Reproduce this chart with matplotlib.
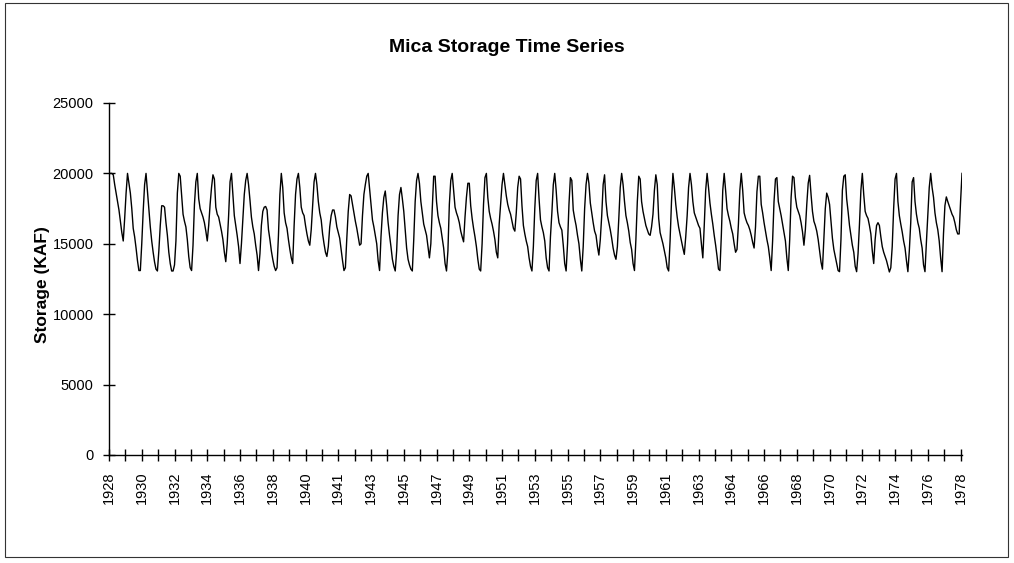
import numpy as np
import matplotlib
matplotlib.use("Agg")
import matplotlib.pyplot as plt
from matplotlib.patches import Rectangle

# Monthly storage (KAF), water years Jul..Jun
storage_1928_1937 = [
    [20000, 20000, 20000, 19900, 19200, 18600, 18000, 17400, 16600, 15800, 15200, 16800],
    [18600, 20000, 19300, 18600, 17500, 16100, 15500, 14700, 13800, 13100, 13100, 15000],
    [17300, 19200, 20000, 18700, 17500, 16200, 15200, 14400, 13700, 13200, 13070, 14500],
    [16300, 17700, 17700, 17600, 16500, 15600, 14400, 13600, 13070, 13070, 13500, 15200],
    [18600, 20000, 19800, 18500, 17100, 16600, 16200, 15300, 14100, 13300, 13100, 14900],
    [17800, 19400, 20000, 18200, 17500, 17200, 16900, 16500, 15900, 15200, 16300, 17800],
    [19000, 19900, 19600, 17600, 17100, 16900, 16400, 15900, 15300, 14400, 13730, 15000],
    [17000, 19400, 20000, 18500, 17000, 16300, 15600, 14800, 13600, 15000, 16700, 18500],
    [19500, 20000, 19200, 18100, 16900, 16200, 15700, 14900, 14200, 13100, 14300, 16300],
    [17300, 17600, 17650, 17400, 16000, 15300, 14500, 13900, 13400, 13100, 13300, 15600],
]
storage_1938_1947 = [
    [18500, 20000, 19000, 17200, 16500, 16100, 15300, 14600, 14000, 13600, 16300, 18500],
    [19600, 20000, 19000, 17600, 17200, 17000, 16300, 15700, 15200, 14900, 16000, 17700],
    [19400, 20000, 19200, 18000, 17200, 16700, 15700, 15000, 14400, 14100, 14800, 16200],
    [17000, 17400, 17400, 16900, 16200, 15800, 15400, 14600, 13800, 13100, 13300, 15400],
    [17300, 18500, 18400, 17800, 17200, 16600, 16100, 15500, 14900, 15000, 17000, 18500],
    [19200, 19800, 20000, 18900, 17800, 16700, 16200, 15600, 15000, 13800, 13100, 15500],
    [17200, 18300, 18750, 17700, 16500, 15600, 14800, 13900, 13400, 13070, 14500, 17000],
    [18500, 19000, 18200, 17300, 16000, 14700, 13900, 13500, 13200, 13070, 15300, 18000],
    [19500, 20000, 19300, 18000, 17200, 16400, 16000, 15600, 14800, 14000, 15000, 17500],
    [19800, 19800, 18000, 17000, 16500, 16100, 15400, 14700, 13600, 13070, 14500, 17800],
]
storage_1948_1957 = [
    [19500, 20000, 18800, 17600, 17200, 16900, 16500, 15900, 15500, 15140, 16900, 18300],
    [19300, 19300, 17700, 16800, 16100, 15500, 14800, 13900, 13200, 13070, 15000, 17800],
    [19700, 20000, 18300, 17300, 16800, 16400, 15900, 15300, 14400, 14000, 16400, 17800],
    [19200, 20000, 19200, 18400, 17800, 17400, 17100, 16600, 16100, 15900, 17200, 19000],
    [19800, 19600, 17700, 16300, 15700, 15200, 14800, 14000, 13400, 13070, 14800, 17500],
    [19500, 20000, 18200, 16700, 16200, 15800, 15200, 14000, 13300, 13070, 15500, 17200],
    [19200, 20000, 18800, 17300, 16500, 16200, 15970, 14900, 13600, 13070, 15000, 17800],
    [19700, 19500, 17400, 16800, 16300, 15600, 15000, 13900, 13070, 14800, 17500, 19200],
    [20000, 19300, 17900, 17200, 16500, 15900, 15600, 14800, 14200, 15300, 17000, 19200],
    [19900, 18000, 17000, 16500, 16000, 15400, 14700, 14200, 13900, 14800, 16800, 19000],
]
storage_1958_1967 = [
    [20000, 19200, 18000, 17000, 16500, 15900, 15100, 14600, 13600, 13100, 15300, 18000],
    [19800, 19600, 18000, 17300, 16800, 16300, 16000, 15700, 15600, 16200, 17100, 18800],
    [19900, 19200, 16800, 15800, 15400, 15000, 14500, 14000, 13300, 13070, 15200, 18000],
    [20000, 19000, 17800, 16900, 16200, 15700, 15200, 14700, 14250, 15500, 17000, 19000],
    [20000, 19200, 18000, 17200, 16900, 16600, 16300, 16100, 15000, 14000, 16300, 18800],
    [20000, 19000, 17900, 17100, 16400, 15600, 14900, 14100, 13200, 13100, 15600, 18800],
    [20000, 18800, 17500, 17000, 16600, 16100, 15700, 15000, 14400, 14600, 16400, 18800],
    [20000, 18800, 17200, 16800, 16500, 16300, 16000, 15600, 15100, 14700, 16200, 18700],
    [19800, 19800, 17800, 17200, 16500, 15900, 15300, 14800, 14000, 13100, 15200, 18000],
    [19600, 19700, 18000, 17500, 17000, 16400, 15800, 15200, 14000, 13100, 15300, 18300],
]
storage_1968_1977 = [
    [19800, 19700, 18300, 17600, 17300, 17000, 16500, 15850, 14900, 16000, 17800, 19300],
    [19860, 18500, 17300, 16600, 16300, 15900, 15300, 14500, 13700, 13200, 15300, 17500],
    [18600, 18300, 17800, 16600, 15400, 14600, 14100, 13600, 13100, 13020, 15300, 18800],
    [19800, 19900, 18200, 17300, 16300, 15600, 14900, 14400, 13400, 13020, 14300, 16400],
    [18800, 20000, 18500, 17300, 17000, 16800, 16300, 15700, 14500, 13600, 15300, 16300],
    [16500, 16300, 15500, 14800, 14400, 14100, 13800, 13400, 13000, 13300, 14800, 17500],
    [19600, 20000, 18000, 17000, 16400, 15850, 15200, 14700, 13800, 13020, 14500, 16500],
    [19400, 19700, 18000, 17100, 16500, 16100, 15300, 14700, 13500, 13020, 15100, 17000],
    [19000, 20000, 19000, 18300, 17200, 16500, 16000, 15200, 14000, 13020, 15700, 17700],
    [18330, 18000, 17700, 17400, 17100, 16900, 16500, 16000, 15700, 15700, 18000, 20000],
]

tick_labels = ["1928", "1930", "1932", "1934", "1936", "1938", "1940", "1941",
               "1943", "1945", "1947", "1949", "1951", "1953", "1955", "1957",
               "1959", "1961", "1963", "1964", "1966", "1968", "1970", "1972",
               "1974", "1976", "1978"]
y_ticks = [0, 5000, 10000, 15000, 20000, 25000]

series = np.concatenate([np.ravel(storage_1928_1937), np.ravel(storage_1938_1947),
                         np.ravel(storage_1948_1957), np.ravel(storage_1958_1967),
                         np.ravel(storage_1968_1977)])
months = np.arange(len(series))

plt.rcParams['font.family'] = ['Liberation Sans', 'DejaVu Sans']

W, H = 1014, 563
fig = plt.figure(figsize=(W / 100, H / 100), dpi=100)
fig.patch.set_facecolor('white')

left, right, top, bottom = 109, 962, 103, 455
ax = fig.add_axes([left / W, 1 - bottom / H, (right - left) / W, (bottom - top) / H])
ax.plot(months, series, color='black', lw=1.0)

ax.set_xlim(0, len(series) - 1)
ax.set_ylim(0, 25000)
for s in ['top', 'right']:
    ax.spines[s].set_visible(False)
for s in ['left', 'bottom']:
    ax.spines[s].set_linewidth(1.0)

step = 23
major = [step * k for k in range(len(tick_labels))]
minor = [step * k + step / 2 for k in range(len(tick_labels) - 1)]
ax.set_xticks(major)
ax.set_xticklabels(tick_labels, rotation=90, fontsize=10.5)
ax.set_xticks(minor, minor=True)
ax.set_yticks(y_ticks)
ax.set_yticklabels([str(v) for v in y_ticks], fontsize=10.5)
ax.tick_params(axis='both', which='both', direction='inout', length=8, width=1.0, color='black')
ax.tick_params(axis='x', pad=8)
ax.tick_params(axis='y', pad=7)

fig.text(0.5, 1 - 47 / H, "Mica Storage Time Series", ha='center', va='center',
         fontsize=14, fontweight='bold')
fig.text(42 / W, 1 - 285 / H, "Storage (KAF)", ha='center', va='center',
         rotation=90, fontsize=12.5, fontweight='bold')

fig.add_artist(Rectangle((5 / W, 1 - 557 / H), 1003 / W, 554 / H,
                         transform=fig.transFigure, fill=False, lw=0.8,
                         edgecolor='#333333'))

fig.savefig("out.png", dpi=100)
